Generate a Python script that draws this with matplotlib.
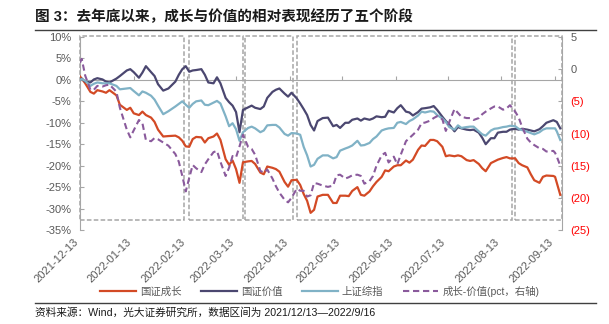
import matplotlib
matplotlib.use("Agg")
import matplotlib.pyplot as plt
import matplotlib.dates as mdates
from matplotlib.lines import Line2D
from matplotlib.patches import Rectangle
import pandas as pd

plt.rcParams['font.family'] = ['Liberation Sans', 'Noto Sans CJK SC']

# trading dates sampled along the period
dates = [
    "2021-12-13", "2021-12-14", "2021-12-16", "2021-12-19", "2021-12-21", "2021-12-23",
    "2021-12-26", "2021-12-28", "2021-12-30", "2022-01-03", "2022-01-05", "2022-01-09",
    "2022-01-11", "2022-01-13", "2022-01-16", "2022-01-18", "2022-01-20", "2022-01-23",
    "2022-01-25", "2022-01-27", "2022-01-30", "2022-02-02", "2022-02-06", "2022-02-08",
    "2022-02-10", "2022-02-12", "2022-02-14", "2022-02-16", "2022-02-18", "2022-02-21",
    "2022-02-23", "2022-02-25", "2022-02-28", "2022-03-02", "2022-03-04", "2022-03-07",
    "2022-03-09", "2022-03-11", "2022-03-13", "2022-03-15", "2022-03-17", "2022-03-20",
    "2022-03-22", "2022-03-24", "2022-03-27", "2022-03-29", "2022-03-31", "2022-04-03",
    "2022-04-05", "2022-04-07", "2022-04-10", "2022-04-12", "2022-04-14", "2022-04-17",
    "2022-04-19", "2022-04-21", "2022-04-23", "2022-04-25", "2022-04-27", "2022-04-29",
    "2022-05-02", "2022-05-05", "2022-05-08", "2022-05-10", "2022-05-12", "2022-05-15",
    "2022-05-17", "2022-05-19", "2022-05-22", "2022-05-24", "2022-05-26", "2022-05-29",
    "2022-05-31", "2022-06-02", "2022-06-05", "2022-06-07", "2022-06-09", "2022-06-12",
    "2022-06-14", "2022-06-16", "2022-06-19", "2022-06-21", "2022-06-23", "2022-06-26",
    "2022-06-28", "2022-06-30", "2022-07-03", "2022-07-05", "2022-07-07", "2022-07-10",
    "2022-07-12", "2022-07-14", "2022-07-17", "2022-07-19", "2022-07-21", "2022-07-24",
    "2022-07-26", "2022-07-28", "2022-07-31", "2022-08-02", "2022-08-04", "2022-08-07",
    "2022-08-09", "2022-08-11", "2022-08-14", "2022-08-16", "2022-08-18", "2022-08-21",
    "2022-08-23", "2022-08-25", "2022-08-28", "2022-08-30", "2022-09-01", "2022-09-04",
    "2022-09-06", "2022-09-08", "2022-09-12", "2022-09-13", "2022-09-14", "2022-09-16",
]

# cumulative returns, %
growth = [
    0.8, 0.3, -0.8, -2.8, -3.2, -2.4, -2.7, -3.0, -2.4,
    -3.6, -5.8, -7.0, -6.5, -7.8, -8.2, -7.4, -8.2, -8.8, -9.8, -11.6, -13.2,
    -13.1, -13.0, -13.4, -14.2, -15.5, -15.6, -13.8, -13.3, -13.4, -14.6, -13.6,
    -13.2, -12.5, -14.0, -18.5, -19.8, -18.8, -20.8, -24.0, -19.2, -19.0, -18.9, -19.6, -21.6, -22.0,
    -20.2, -20.5, -20.8, -21.4, -23.8, -24.9, -23.4, -23.3, -24.5, -26.6, -28.2, -31.0, -30.3, -27.2,
    -26.8, -26.8, -28.7, -28.7, -27.0, -27.0, -27.1, -25.9, -25.0, -26.8, -27.0, -26.0,
    -24.8, -23.8, -22.6, -21.1, -21.3, -20.2, -19.9, -19.9, -18.8, -19.3, -18.6, -16.3, -15.3,
    -15.4, -14.0, -14.0, -14.3, -15.6, -17.8, -17.6, -17.8, -17.6, -17.8, -18.7, -18.9, -18.7,
    -19.6, -20.6, -21.3, -19.4, -19.0, -18.6, -18.2, -18.0, -18.3, -18.3, -19.4, -19.9, -20.4, -22.0,
    -23.4, -24.0, -22.6, -22.3, -22.4, -22.6, -24.0, -26.8,
]
value = [
    0.0, 0.3, -0.4, -0.6, 0.1, 0.4, 0.1, -0.4, -0.6,
    0.3, 0.9, 2.2, 2.5, 1.8, 0.5, 1.7, 3.2, 1.8, 0.9, -1.0, -2.5,
    -2.0, -0.4, 1.2, 2.5, 3.2, 1.9, 2.2, 2.3, 2.5, 1.2, -0.6,
    -0.8, 0.6, -0.8, -4.2, -5.2, -6.0, -7.5, -12.2, -7.0, -6.4, -6.0, -6.5, -6.8, -6.2,
    -4.2, -2.8, -2.3, -2.0, -3.2, -3.9, -3.0, -4.3, -5.5, -6.8, -8.2, -10.5, -11.8, -9.6,
    -8.9, -8.8, -10.8, -10.5, -11.2, -10.0, -10.0, -9.3, -9.0, -9.5, -9.0, -9.3,
    -9.0, -8.5, -8.7, -8.6, -7.2, -7.6, -6.6, -5.9, -7.4, -7.6, -8.3, -7.5, -6.7,
    -6.6, -6.4, -6.1, -7.0, -8.6, -9.6, -10.4, -12.0, -11.0, -11.3, -11.6, -11.7, -11.6,
    -12.3, -13.5, -15.0, -13.6, -13.6, -12.3, -12.1, -12.1, -11.6, -11.4, -11.6, -11.4, -11.6, -11.8,
    -12.0, -11.5, -10.8, -10.0, -9.4, -9.6, -9.8, -11.3,
]
sse = [
    0.0, 0.2, -0.2, -1.4, -0.9, -0.6, -0.8, -0.8, -0.8,
    -1.4, -2.2, -2.0, -1.9, -2.6, -3.6, -2.7, -3.0, -3.7, -4.6, -6.0, -8.0,
    -7.3, -6.2, -5.6, -5.0, -5.8, -6.5, -5.6, -5.0, -4.8, -5.8, -5.9,
    -5.3, -4.9, -5.5, -8.5, -10.8, -10.1, -11.5, -14.2, -12.2, -11.2, -10.9, -11.3, -12.2, -11.8,
    -10.6, -10.5, -10.5, -11.1, -12.6, -13.0, -12.4, -12.5, -12.8, -15.6, -17.6, -20.2, -19.8, -18.4,
    -17.6, -17.6, -18.3, -18.0, -16.5, -16.0, -15.7, -15.3, -14.2, -15.3, -15.2, -14.7,
    -13.8, -13.2, -11.8, -11.5, -11.3, -11.2, -10.0, -9.8, -10.3, -9.6, -9.2, -8.3, -7.4,
    -7.6, -7.3, -7.4, -8.2, -9.0, -9.8, -11.0, -11.6, -10.6, -11.2, -11.0, -10.9, -10.9,
    -12.0, -12.7, -13.0, -11.8, -11.4, -11.3, -11.0, -10.9, -10.7, -10.8, -11.4, -11.7, -12.1, -12.4,
    -12.7, -12.2, -11.6, -11.3, -11.3, -11.3, -12.0, -14.0,
]
# growth minus value, pct (right axis)
spread = [
    1.0, 1.6, -1.0, -3.2, -3.2, -2.6, -2.7, -2.5, -2.4,
    -3.5, -6.0, -9.4, -10.6, -9.5, -7.9, -8.4, -11.0, -11.2, -10.7, -10.9, -11.4,
    -11.9, -13.2, -14.4, -16.6, -19.0, -16.9, -14.9, -15.4, -16.0, -14.8, -14.0,
    -12.9, -12.7, -14.4, -16.6, -15.3, -13.5, -13.7, -12.0, -10.2, -12.1, -12.4, -13.3, -15.8, -16.1,
    -15.6, -17.0, -18.2, -19.2, -20.3, -20.7, -20.0, -18.6, -18.9, -18.9, -19.8, -19.6, -17.7, -17.8,
    -18.1, -18.3, -18.1, -16.5, -16.4, -17.0, -16.8, -16.5, -16.4, -16.6, -17.8, -17.4,
    -16.6, -15.0, -13.4, -13.0, -14.5, -13.6, -14.8, -13.3, -11.2, -10.7, -10.2, -9.4, -8.4,
    -8.3, -8.0, -7.6, -7.3, -7.8, -9.6, -8.2, -6.2, -6.8, -7.4, -7.6, -7.6, -7.9,
    -7.6, -7.0, -6.6, -6.1, -5.8, -5.8, -6.3, -6.1, -5.6, -6.6, -7.5, -9.0, -10.8, -11.4,
    -11.8, -12.3, -12.4, -12.8, -12.7, -13.0, -13.6, -15.0,
]

# five stages of the relative performance
stages = [
    ("2021-12-13", "2022-02-11"),
    ("2022-02-14", "2022-03-17"),
    ("2022-03-18", "2022-04-15"),
    ("2022-04-17", "2022-08-19"),
    ("2022-08-21", "2022-09-17"),
]
stage_top, stage_bottom = 10.25, -32.6

tick_dates = ["2021-12-13", "2022-01-13", "2022-02-13", "2022-03-13", "2022-04-13",
              "2022-05-13", "2022-06-13", "2022-07-13", "2022-08-13", "2022-09-13"]

RED = "#D34A25"
NAVY = "#4B4770"
BLUE = "#80B2C6"
PURPLE = "#8A5A9C"
AXIS_GRAY = "#A6A6A6"
TEXT_GRAY = "#595959"

x = pd.to_datetime(dates)

fig = plt.figure(figsize=(6.09, 3.24), dpi=100)
ax = fig.add_axes([80 / 609, 1 - 230 / 324, 482 / 609, 193 / 324])
ax2 = ax.twinx()

ax.plot(x, growth, color=RED, lw=1.6, label="国证成长", zorder=3)
ax.plot(x, value, color=NAVY, lw=1.6, label="国证价值", zorder=3)
ax.plot(x, sse, color=BLUE, lw=1.6, label="上证综指", zorder=3)
ax2.plot(x, spread, color=PURPLE, lw=1.5, ls=(0, (3, 1.8)), label="成长-价值(pct，右轴)")

ax.set_xlim(pd.Timestamp("2021-12-13"), pd.Timestamp("2022-09-17"))
ax.set_ylim(-35, 10)
ax2.set_ylim(-25, 5)

# stage boxes
for start, end in stages:
    s = mdates.date2num(pd.Timestamp(start))
    e = mdates.date2num(pd.Timestamp(end))
    ax.add_patch(Rectangle((s, stage_bottom), e - s, stage_top - stage_bottom,
                           fill=False, ec=AXIS_GRAY, lw=1.1, ls=(0, (3, 1.5)),
                           clip_on=False, zorder=2))

# left axis
ax.set_yticks(range(-35, 11, 5))
ax.set_yticklabels([f"{v}%" for v in range(-35, 11, 5)])
ax.tick_params(axis="y", direction="in", length=3, color=AXIS_GRAY,
               labelsize=8, labelcolor=TEXT_GRAY, pad=6)
ax.spines["top"].set_visible(False)
ax.spines["right"].set_visible(False)
ax.spines["left"].set_color(AXIS_GRAY)

# category axis sits on the zero line, labels stay at the bottom
ax.spines["bottom"].set_position(("data", 0))
ax.spines["bottom"].set_color(AXIS_GRAY)
ax.set_xticks(pd.to_datetime(tick_dates))
ax.tick_params(axis="x", direction="in", length=3, color=AXIS_GRAY, labelbottom=False)

sec = ax.secondary_xaxis("bottom")
sec.set_xticks(pd.to_datetime(tick_dates))
sec.set_xticklabels(tick_dates, rotation=45, ha="right", va="top",
                    rotation_mode="default")
sec.tick_params(length=0, pad=5, labelsize=8, labelcolor=TEXT_GRAY)
sec.spines["bottom"].set_visible(False)

# right axis, negatives shown in parentheses
right_ticks = list(range(-25, 6, 5))
ax2.set_yticks(right_ticks)
ax2.set_yticklabels([f"({-v})" if v < 0 else f"{v}" for v in right_ticks])
for lbl, v in zip(ax2.get_yticklabels(), right_ticks):
    lbl.set_color("#FF0000" if v < 0 else TEXT_GRAY)
ax2.tick_params(axis="y", direction="in", length=3, color=AXIS_GRAY, labelsize=8, pad=6)
for side in ("top", "left", "bottom"):
    ax2.spines[side].set_visible(False)
ax2.spines["right"].set_color(AXIS_GRAY)

# legend
handles = ax.get_lines() + ax2.get_lines()
leg = fig.legend(handles, [h.get_label() for h in handles], loc="center",
                 bbox_to_anchor=(320 / 609, 1 - 291 / 324), ncol=4, frameon=False,
                 fontsize=7.5, handlelength=3.4, handletextpad=0.4, columnspacing=1.9)
for t in leg.get_texts():
    t.set_color(TEXT_GRAY)

# title, rules and source note
fig.text(35 / 609, 1 - 17 / 324, "图 3：去年底以来，成长与价值的相对表现经历了五个阶段",
         fontsize=10.5, fontweight="bold", va="center", ha="left", color="#1A1A1A")
fig.add_artist(Line2D([35 / 609, 596 / 609], [1 - 30 / 324, 1 - 30 / 324],
                      transform=fig.transFigure, color="#404040", lw=1))
fig.add_artist(Line2D([35 / 609, 596 / 609], [1 - 303 / 324, 1 - 303 / 324],
                      transform=fig.transFigure, color="#404040", lw=1))
fig.text(35 / 609, 1 - 313 / 324,
         "资料来源：Wind，光大证券研究所，数据区间为 2021/12/13—2022/9/16",
         fontsize=7.7, va="center", ha="left", color="#1A1A1A")

fig.savefig("out.png", dpi=100)
